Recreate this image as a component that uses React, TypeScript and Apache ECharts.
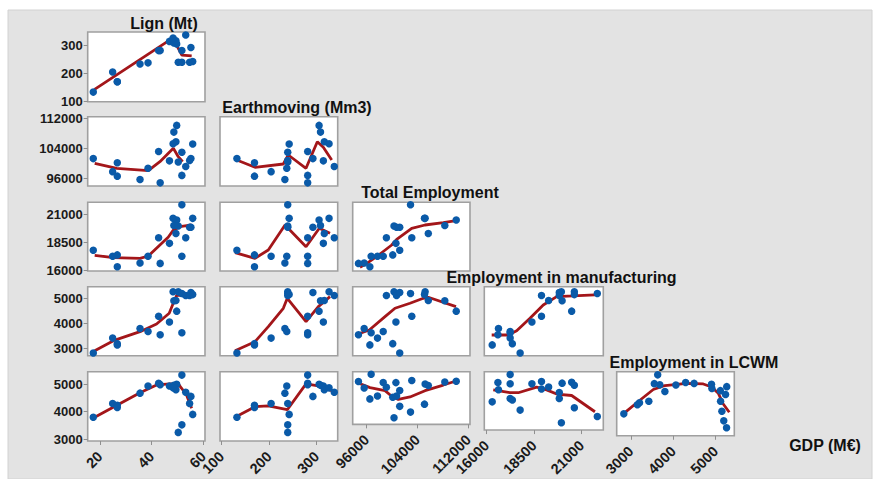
import React, { useEffect, useRef } from "react";
import * as echarts from "echarts";

// ---- Observations (one entry per year) ----
const lign = [17.4, 24.9, 26.7, 26.7, 35.5, 38.6, 42.7, 43.3, 46.9, 49.7, 48.6, 49.4, 48.3, 50.3, 51.7, 51.7, 53.2, 54.7, 55.2, 55.9];
const earthmoving = [132, 204, 169, 169, 233, 237, 281, 281, 314, 305, 308, 316, 326, 239, 281, 239, 337, 239, 292, 242];
const totalEmployment = [101200, 97700, 100100, 96500, 95600, 98600, 103100, 94700, 100600, 110100, 108300, 105700, 105200, 100300, 96700, 102900, 99100, 100700, 101200, 105100];
const manufEmployment = [17760, 17235, 17350, 16290, 16620, 17235, 18884, 16590, 18380, 20472, 19969, 19260, 20613, 19930, 17235, 21822, 18884, 19820, 19820, 20613];
const lcwmEmployment = [2830, 3420, 3200, 3150, 3800, 3680, 4290, 3550, 4060, 4490, 4900, 4910, 5260, 5256, 3630, 5190, 5110, 5115, 5232, 5146];
const gdp = [3795, 4292, 4232, 4150, 4669, 4930, 5024, 4977, 4925, 4988, 4953, 4789, 4860, 3249, 5322, 3522, 4704, 4292, 4551, 3900];

const varNames = ["Lign (Mt)", "Earthmoving (Mm3)", "Total Employment", "Employment in manufacturing", "Employment in LCWM", "GDP (M€)"];

// ---- Tick labels ----
const colTicks = [
  [20, 40, 60],
  [100, 200, 300],
  [96000, 104000, 112000],
  [16000, 18500, 21000],
  [3000, 4000, 5000],
];
const rowTicks = [
  [100, 200, 300],
  [96000, 104000, 112000],
  [16000, 18500, 21000],
  [3000, 4000, 5000],
  [3000, 4000, 5000],
];

// ---- Smoother (lowess) lines, per panel ----
const smoothR1C1 = [[17.9, 142], [46.5, 316], [48.4, 322], [51.7, 265], [55.5, 262]];
const smoothR2C1 = [[17.95, 99940], [26.5, 98600], [38.7, 97960], [43.2, 100370], [48.4, 103960], [50.3, 101710], [52.0, 100370]];
const smoothR3C1 = [[17.95, 17313], [25.2, 17098], [35.5, 17045], [38.7, 17250], [43.2, 18233], [46.4, 18920], [48.4, 19572], [51.0, 19867], [55.5, 20020]];
const smoothR4C1 = [[17.95, 2921], [25.2, 3318], [35.5, 3675], [41.9, 3980], [46.8, 4405], [48.4, 4810], [49.7, 5116], [51.6, 5116], [55.5, 5076]];
const smoothR5C1 = [[17.95, 3796], [35.5, 4686], [41.9, 4965], [47.1, 5001], [50.3, 5001], [51.6, 4845], [53.5, 4603], [55.5, 4121]];
const smoothR2C2 = [[131.6, 100824], [170.1, 98868], [229.7, 99752], [240.2, 102164], [277.5, 98600], [301.3, 105728], [313.9, 104228], [331.6, 100824]];
const smoothR3C2 = [[128, 17545], [170.1, 17045], [198.1, 17786], [233.3, 20019], [277.5, 18081], [305.5, 19724], [328, 19277]];
const smoothR4C2 = [[128, 2921], [170.1, 3278], [198.1, 3873], [229.7, 4604], [238.1, 5001], [277.5, 4072], [303.4, 4667], [328, 5064]];
const smoothR5C2 = [[128, 3796], [170.1, 4180], [198.1, 4205], [238.1, 4070], [277.5, 5002], [303.4, 4929], [333, 4750]];
const smoothR3C3 = [[94945, 16241], [96410, 16741], [98095, 17429], [99938, 18233], [100725, 18741], [103088, 19724], [105182, 20019], [108065, 20224], [110065, 20402]];
const smoothR4C3 = [[94677, 3584], [96410, 3742], [98882, 4270], [100457, 4604], [102820, 4802], [104915, 5001], [105702, 5040], [110065, 4667]];
const smoothR5C3 = [[94677, 4904], [96520, 4687], [98882, 4542], [99938, 4278], [100977, 4122], [102820, 4242], [105182, 4542], [108065, 4810], [110065, 5002]];
const smoothR4C4 = [[16263, 3544], [17136, 3544], [17578, 3715], [18278, 4207], [18977, 4735], [19682, 5064], [20555, 5092], [21697, 5132]];
const smoothR5C4 = [[16347, 4665], [17226, 4542], [17662, 4542], [18630, 4785], [19156, 4665], [19682, 4484], [20471, 4423], [21697, 3724]];
const smoothR5C5 = [[2818, 3796], [3172, 4278], [3526, 4748], [3802, 4904], [4315, 4991], [4706, 4966], [4904, 4846], [5060, 4604], [5178, 4180], [5320, 3858]];

const smoothers: Record<string, number[][]> = {
  "0-0": smoothR1C1,
  "1-0": smoothR2C1, "1-1": smoothR2C2,
  "2-0": smoothR3C1, "2-1": smoothR3C2, "2-2": smoothR3C3,
  "3-0": smoothR4C1, "3-1": smoothR4C2, "3-2": smoothR4C3, "3-3": smoothR4C4,
  "4-0": smoothR5C1, "4-1": smoothR5C2, "4-2": smoothR5C3, "4-3": smoothR5C4, "4-4": smoothR5C5,
};

// ---- Layout ----
const colBox = [[87.7, 205], [220, 337.7], [352.7, 470], [484.3, 603.3], [616.7, 734.3]];
const rowBox = [[32, 101.7], [116.7, 186], [202.3, 271], [286.7, 355.7], [371.7, 441]];
const colRange = [[15.24, 60.66], [96.4, 344.2], [93795, 112268], [15874, 22137], [2662, 5439]];
const rowRange = [[97.5, 347.8], [93856, 112429], [15911, 22045], [2722, 5460], [2938, 5445]];
const titlePos = [[164, 23], [297, 107.75], [430, 192.5], [561.5, 277.25], [694, 362], [825, 445]];

const FONT = "'Liberation Sans', Arial, sans-serif";

export default function App() {
  const ref = useRef<HTMLDivElement>(null);
  useEffect(() => {
    if (!ref.current) return;
    const chart = echarts.init(ref.current, undefined, { renderer: "svg" });
    const vars = [lign, earthmoving, totalEmployment, manufEmployment, lcwmEmployment, gdp];
    const grids: any[] = [];
    const xAxes: any[] = [];
    const yAxes: any[] = [];
    const series: any[] = [];
    let gi = 0;
    for (let r = 0; r < 5; r++) {
      for (let c = 0; c <= r; c++) {
        const [x0, x1] = colBox[c];
        const [y0, y1] = rowBox[r];
        grids.push({
          left: x0, top: y0, width: x1 - x0, height: y1 - y0,
          show: true, backgroundColor: "#ffffff", borderColor: "#a0a0a0", borderWidth: 1.6,
        });
        const isBottom = r === 4;
        const isLeft = c === 0;
        xAxes.push({
          gridIndex: gi, type: "value", min: colRange[c][0], max: colRange[c][1],
          axisLine: { show: false }, splitLine: { show: false },
          axisTick: { show: isBottom, customValues: colTicks[c], length: 4, lineStyle: { color: "#8f8f8f", width: 1 } },
          axisLabel: {
            show: isBottom, customValues: colTicks[c], rotate: 45, margin: 13,
            fontSize: 14.5, fontWeight: "bold", color: "#1a1a1a", fontFamily: FONT,
            formatter: (v: number) => String(v),
          },
        });
        yAxes.push({
          gridIndex: gi, type: "value", min: rowRange[r][0], max: rowRange[r][1],
          axisLine: { show: false }, splitLine: { show: false },
          axisTick: { show: isLeft, customValues: rowTicks[r], length: 4, lineStyle: { color: "#8f8f8f", width: 1 } },
          axisLabel: {
            show: isLeft, customValues: rowTicks[r], margin: 5,
            fontSize: 13, fontWeight: "bold", color: "#1a1a1a", fontFamily: FONT,
            formatter: (v: number) => String(v),
          },
        });
        const xs = vars[c];
        const ys = vars[r + 1];
        series.push({
          type: "line", xAxisIndex: gi, yAxisIndex: gi, data: smoothers[`${r}-${c}`],
          showSymbol: false, symbol: "none", lineStyle: { color: "#a3161a", width: 2.8 }, z: 2, silent: true,
        });
        series.push({
          type: "scatter", xAxisIndex: gi, yAxisIndex: gi,
          data: xs.map((x, i) => [x, ys[i]]),
          symbolSize: 7.5, itemStyle: { color: "#0a5aa8", opacity: 1 }, z: 3, clip: false,
        });
        gi++;
      }
    }
    const graphics: any[] = [
      { type: "rect", z: -100, shape: { x: 8, y: 10, width: 864, height: 469 }, style: { fill: "#e3e3e3", stroke: "#d2d2d2", lineWidth: 1 } },
    ];
    varNames.forEach((name, i) => {
      graphics.push({
        type: "text", x: titlePos[i][0], y: titlePos[i][1], z: 10,
        style: { text: name, fill: "#111", font: `bold 16px ${FONT}`, textAlign: "center", textVerticalAlign: "middle" },
      });
    });
    chart.setOption({
      animation: false,
      backgroundColor: "#ffffff",
      grid: grids,
      xAxis: xAxes,
      yAxis: yAxes,
      series,
      graphic: graphics,
    });
    return () => chart.dispose();
  }, []);
  return <div ref={ref} style={{ position: "absolute", left: 0, top: 0, width: 875, height: 479 }} />;
}
